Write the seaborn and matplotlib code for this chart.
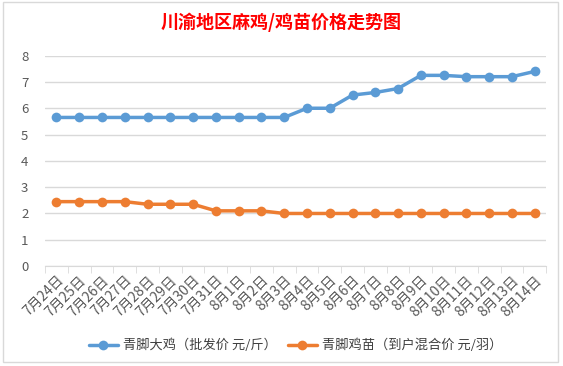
import pandas as pd
import seaborn as sns
import matplotlib.pyplot as plt
from matplotlib.patches import Rectangle
from matplotlib.ticker import FixedLocator

# Chart data
dates = ['7月24日', '7月25日', '7月26日', '7月27日', '7月28日', '7月29日', '7月30日', '7月31日',
         '8月1日', '8月2日', '8月3日', '8月4日', '8月5日', '8月6日', '8月7日', '8月8日',
         '8月9日', '8月10日', '8月11日', '8月12日', '8月13日', '8月14日']
big_chicken = [5.65, 5.65, 5.65, 5.65, 5.65, 5.65, 5.65, 5.65, 5.65, 5.65, 5.65,
               6.0, 6.0, 6.5, 6.6, 6.75, 7.25, 7.25, 7.2, 7.2, 7.2, 7.4]
chick = [2.45, 2.45, 2.45, 2.45, 2.35, 2.35, 2.35, 2.1, 2.1, 2.1, 2.0,
         2.0, 2.0, 2.0, 2.0, 2.0, 2.0, 2.0, 2.0, 2.0, 2.0, 2.0]
series_names = ['青脚大鸡（批发价 元/斤）', '青脚鸡苗（到户混合价 元/羽）']
colors = ['#5B9BD5', '#ED7D31']

sns.set_style('white')
plt.rcParams['font.family'] = ['Noto Sans CJK SC', 'DejaVu Sans']

df = pd.DataFrame({
    'idx': list(range(len(dates))) * 2,
    'price': big_chicken + chick,
    'series': [series_names[0]] * len(dates) + [series_names[1]] * len(dates),
})

fig = plt.figure(figsize=(5.63, 3.66), dpi=100)
# chart frame
fig.patches.append(Rectangle((0.006, 0.01), 0.985, 0.985, transform=fig.transFigure,
                             fill=False, edgecolor='#D9D9D9', linewidth=1))
ax = fig.add_axes([0.08, 0.273, 0.89, 0.575])

sns.lineplot(data=df, x='idx', y='price', hue='series', palette=colors,
             marker='o', markersize=7, markeredgewidth=0, linewidth=2.5, ax=ax)

ax.set_ylim(0, 8)
ax.set_xlim(-0.5, len(dates) - 0.5)
ax.set_yticks(range(0, 9))
ax.grid(axis='y', color='#D9D9D9', linewidth=1)
ax.set_axisbelow(True)
for s in ['top', 'right', 'left']:
    ax.spines[s].set_visible(False)
ax.spines['bottom'].set_color('#D9D9D9')

ax.set_xticks(range(len(dates)))
ax.set_xticklabels(dates, rotation=45, ha='right', rotation_mode='anchor')
ax.xaxis.set_minor_locator(FixedLocator([i - 0.5 for i in range(len(dates) + 1)]))
ax.tick_params(axis='x', which='major', length=0, labelsize=10, colors='#595959', pad=5)
ax.tick_params(axis='x', which='minor', length=5, color='#D9D9D9', bottom=True)
ax.tick_params(axis='y', length=0, labelsize=9.5, colors='#595959', pad=12)
ax.set_xlabel('')
ax.set_ylabel('')

ax.legend(loc='upper center', bbox_to_anchor=(0.5, -0.29), ncol=2, frameon=False,
          fontsize=9.5, labelcolor='#404040', handlelength=2.2, handletextpad=0.4,
          columnspacing=0.8)

fig.suptitle('川渝地区麻鸡/鸡苗价格走势图', color='red', fontsize=13, fontweight='bold', y=0.965)

fig.savefig('out.png', dpi=100)
